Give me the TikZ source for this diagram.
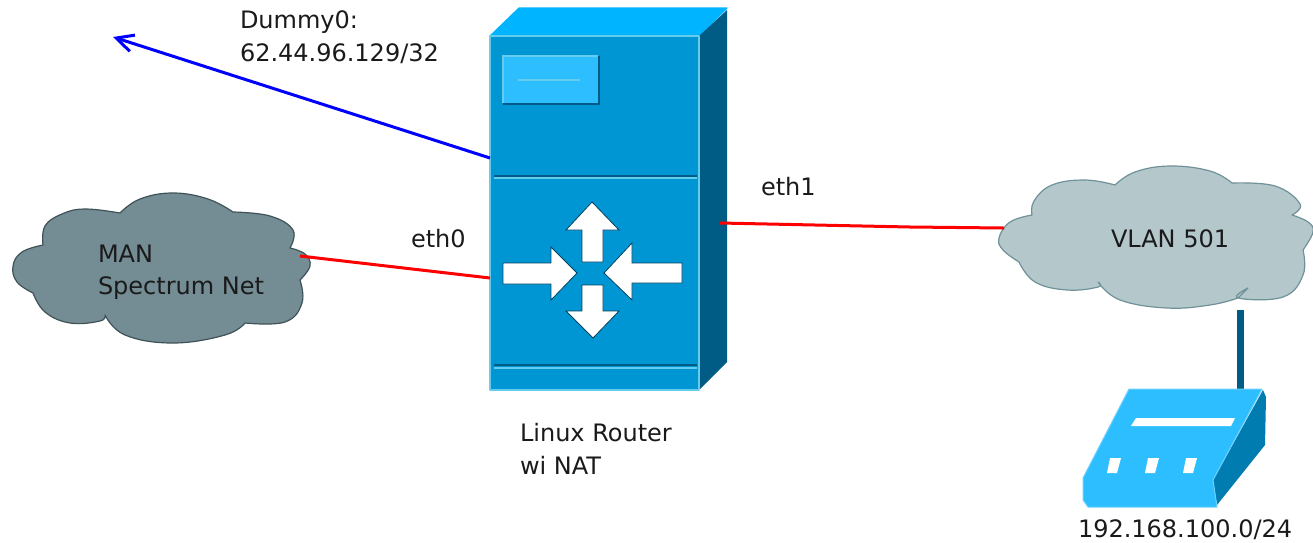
\documentclass[tikz,border=0pt]{standalone}
\usepackage{fontspec}
\setmainfont{DejaVu Sans}
\usetikzlibrary{arrows.meta}
\definecolor{frontc}{HTML}{0096D4}
\definecolor{topc}{HTML}{00B4FF}
\definecolor{sidec}{HTML}{005B85}
\definecolor{edgec}{HTML}{66CCEE}
\definecolor{panelc}{HTML}{2DBEFF}
\definecolor{modemside}{HTML}{007CB0}
\definecolor{cloudA}{HTML}{748C94}
\definecolor{cloudAe}{HTML}{3F5258}
\definecolor{cloudB}{HTML}{B4C8CC}
\definecolor{cloudBe}{HTML}{6F9198}
\definecolor{txt}{HTML}{1A1A1A}
\tikzset{
 lbl/.style={inner sep=0pt,outer sep=0pt,text=txt,font=\fontsize{24}{32}\selectfont,anchor=base west,align=left},
 redlink/.style={draw=red,line width=3pt},
 bluelink/.style={draw=blue,line width=3pt,-{Straight Barb[length=17pt,width=17pt,line width=3pt]}},
 arrowbox/.style={fill=white,draw=sidec!70!black,line width=.8pt,line join=miter},
 routerface/.style={draw=edgec,line width=1.2pt,line join=round},
}
\begin{document}
\begin{tikzpicture}[x=1pt,y=-1pt]
\useasboundingbox (0,0) rectangle (1313,542);
% clouds
\draw[fill=cloudA,draw=cloudAe,line width=1.2pt,line join=round]
 plot[smooth,tension=.7] coordinates {(43,245)(45,226)(62,214)(85,209)(120,213)}
 -- plot[smooth,tension=.7] coordinates {(120,213)(140,199)(173,193)(208,199)(233,212)}
 -- plot[smooth,tension=.7] coordinates {(233,212)(270,216)(293,230)(290,248)}
 -- plot[smooth,tension=.7] coordinates {(290,248)(305,254)(310,266)(300,280)}
 -- plot[smooth,tension=.7] coordinates {(300,280)(302,303)(285,322)(245,323)}
 -- plot[smooth,tension=.7] coordinates {(245,323)(225,335)(173,343)(125,335)(105,315)}
 -- plot[smooth,tension=.7] coordinates {(105,315)(100,321)(70,323)(45,312)(33,293)}
 -- plot[smooth,tension=.7] coordinates {(33,293)(17,282)(13,266)(22,252)(43,245)} -- cycle;
\draw[fill=cloudB,draw=cloudBe,line width=1.2pt,line join=round]
 plot[smooth,tension=.7] coordinates {(1032,215)(1034,201)(1052,185)(1085,180)(1115,185)}
 -- plot[smooth,tension=.7] coordinates {(1115,185)(1135,172)(1170,166)(1210,171)(1232,183)}
 -- plot[smooth,tension=.7] coordinates {(1232,183)(1275,186)(1300,204)(1292,215)}
 -- plot[smooth,tension=.7] coordinates {(1292,215)(1308,222)(1313,232)(1303,250)}
 -- plot[smooth,tension=.7] coordinates {(1303,250)(1303,275)(1283,297)(1238,298)(1248,288)}
 -- plot[smooth,tension=.7] coordinates {(1238,298)(1210,305)(1167,308)(1120,300)(1098,282)}
 -- plot[smooth,tension=.7] coordinates {(1098,282)(1098,287)(1067,290)(1035,282)(1019,262)}
 -- plot[smooth,tension=.7] coordinates {(1019,262)(1003,250)(999,238)(1010,222)(1032,215)} -- cycle;
% router
\draw[routerface,fill=topc,draw=topc] (490,36) -- (519,8) -- (727,8) -- (699,36) -- cycle;
\fill[sidec] (699,36) -- (727,10) -- (727,362) -- (699,390) -- cycle;
\draw[routerface,fill=frontc] (490,36) rectangle (699,390);
\coordinate (routerW1) at (490,158);
\coordinate (routerW2) at (490,278);
\coordinate (routerE) at (720,223);
% panel
\fill[sidec] (503,56) rectangle (600,105);
\fill[edgec] (502,55) rectangle (598,103);
\fill[panelc] (504,57) rectangle (598,103);
\draw[edgec,line width=1.2pt] (518,80) -- (580,80);
% dividers
\draw[sidec,line width=1.2pt] (494,176) -- (697,176);
\draw[edgec,line width=1.4pt] (494,178) -- (697,178);
\draw[sidec,line width=1.2pt] (494,365) -- (697,365);
\draw[edgec,line width=1.4pt] (494,368) -- (697,368);
% arrows on router
\draw[arrowbox] (592,202) -- (619,230) -- (603,230) -- (603,262) -- (582,262) -- (582,230) -- (566,230) -- cycle;
\draw[arrowbox] (577,273) -- (551,300) -- (551,284) -- (503,284) -- (503,263) -- (551,263) -- (551,247) -- cycle;
\draw[arrowbox] (604,273) -- (632,243) -- (632,263) -- (682,263) -- (682,283) -- (632,283) -- (632,300) -- cycle;
\draw[arrowbox] (593,338) -- (566,311) -- (582,311) -- (582,285) -- (603,285) -- (603,311) -- (619,311) -- cycle;
% modem
\draw[sidec,line width=7pt] (1240,310) coordinate (wireTop) -- (1240,390) coordinate (wireBot);
\fill[modemside] (1263,390) -- (1266,397) -- (1265,445) -- (1217,505) -- (1213,480) -- cycle;
\draw[fill=panelc,draw=panelc!70!white,line width=1pt,line join=round] (1129,389) -- (1262,389) -- (1213,480) -- (1217,507) -- (1088,507) -- (1083,500) -- (1083,478) -- cycle;
\fill[white] (1136,418) -- (1235,418) -- (1231,426) -- (1131,426) -- cycle;
\foreach \d in {0,38,76}{
 \fill[white] ({1110+\d},458) -- ({1121+\d},458) -- ({1117+\d},473) -- ({1107+\d},473) -- cycle;
}
% connectors
\coordinate (farEnd) at (113,37);
\coordinate (manE) at (300,256);
\coordinate (vlanW) at (1004,228);
\coordinate (m1) at (815,225);
\coordinate (m2) at (910,227);
\draw[bluelink] (routerW1) -- (farEnd);
\draw[redlink] (manE) -- (routerW2);
\draw[redlink] (routerE) -- (m1) -- (m2) -- (vlanW);
% labels
\node[lbl] (dummy) at (240,28) {Dummy0:};
\node[lbl] (dummyip) at (240,61) {62.44.96.129/32};
\node[lbl] (eth0) at (411,247) {eth0};
\node[lbl] (eth1) at (761,195) {eth1};
\node[lbl] (man) at (98,262) {MAN};
\node[lbl] (spec) at (98,294) {Spectrum Net};
\node[lbl] (vlan) at (1111,247) {VLAN 501};
\node[lbl] (linux) at (520,441) {Linux Router};
\node[lbl] (wi) at (520,474) {wi NAT};
\node[lbl] (net) at (1078,537) {192.168.100.0/24};
\end{tikzpicture}
\end{document}
